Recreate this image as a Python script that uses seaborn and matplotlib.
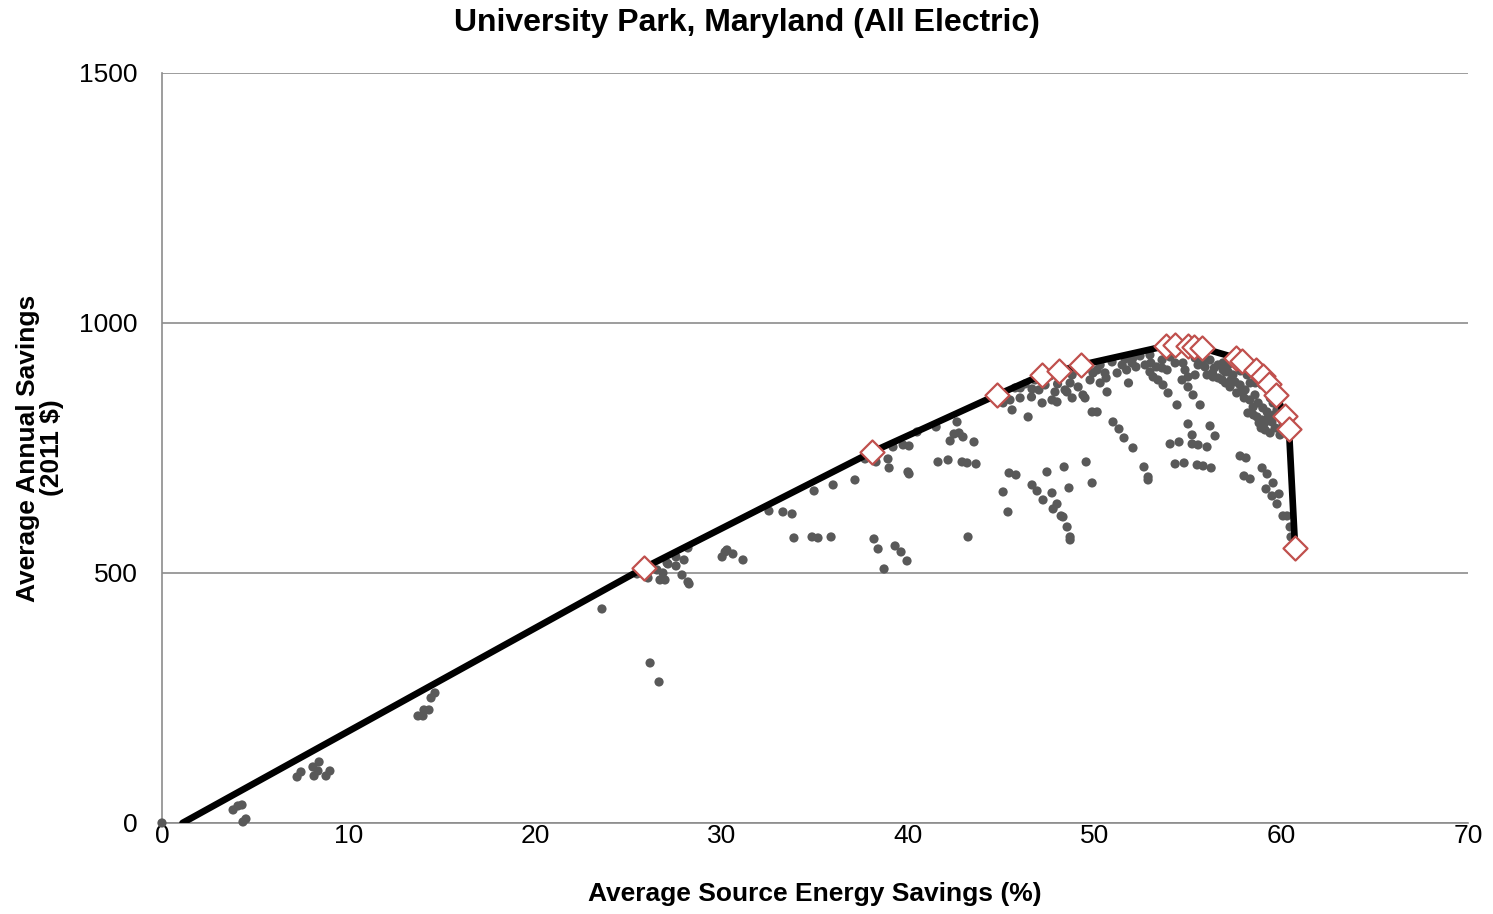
import numpy as np
import pandas as pd
import matplotlib
matplotlib.use("Agg")
import matplotlib.pyplot as plt
import seaborn as sns

# all simulated packages (energy savings %, annual savings $)
pkg_x = [0.0, 3.81, 4.07, 4.29, 4.34, 4.50, 7.24, 7.45, 8.09, 8.42, 8.15, 8.36, 8.79, 9.00,
         13.72, 13.99, 14.04, 14.31, 14.42, 14.63,
         23.58, 26.16, 26.64, 25.46, 26.05, 26.69, 26.96, 26.53, 26.85, 27.12, 27.55, 27.55,
         27.98, 27.87, 28.19, 28.25, 28.19, 27.07, 30.02, 30.28, 30.18, 30.60, 31.14,
         32.53, 33.28, 33.77, 33.87, 34.84, 35.16, 35.86, 34.95, 35.97, 37.14,
         38.16, 38.38, 38.70, 39.29, 39.61, 39.93, 37.68, 38.27, 38.22, 38.91, 38.97,
         39.18, 39.72, 40.04, 39.98, 40.04, 40.47, 41.49, 41.59, 42.13, 42.24, 42.45,
         42.61, 42.72, 42.93, 42.88, 43.15, 43.63, 43.52, 43.20,
         45.40, 45.77, 45.08, 45.34, 46.63, 46.90, 47.22, 47.70, 47.43, 48.35, 47.97,
         47.76, 48.19, 48.29, 48.51, 48.67, 48.67, 48.61, 49.53, 49.85, 50.97, 51.29,
         51.56, 52.04, 52.63, 52.85, 52.85, 54.03, 54.51, 54.30, 54.78, 54.99, 55.21,
         55.21, 55.53, 56.01, 56.17, 56.44, 55.48, 55.80, 56.23, 57.78, 58.10, 57.99,
         58.32, 58.96, 59.23, 59.55, 59.17, 59.49, 59.87, 59.76, 60.08, 60.30, 60.46, 60.51,
         45.08, 45.45, 45.56, 45.99, 46.42, 46.63, 47.17, 47.33, 47.70, 47.97, 47.86,
         48.40, 48.67, 48.78, 48.78, 49.36, 49.47, 49.74, 49.85, 50.12, 50.28, 50.65,
         50.54, 51.19, 51.46, 51.99, 52.04, 50.12, 49.10,
         45.72, 46.26, 46.79, 47.60, 48.24, 48.94, 49.63, 50.28, 50.92, 51.62, 52.42, 52.95,
         52.69, 53.60, 53.12, 53.38, 53.65, 53.92, 54.40, 54.30, 54.72, 54.83, 54.67,
         54.99, 55.37, 54.99, 55.26, 55.64, 55.90, 56.01, 56.33, 56.82, 56.60, 56.87,
         55.53, 53.87, 55.37, 52.95, 54.03, 56.17, 57.14,
         56.87, 56.98, 57.40, 57.51, 57.78, 58.05, 58.16, 58.32, 58.48, 58.58, 58.75,
         58.69, 58.96, 59.23, 59.12, 59.49, 59.66, 59.92, 59.39, 57.24, 58.96, 59.28,
         59.55, 57.88, 58.42, 58.85, 59.76, 60.03, 58.91, 60.08, 53.60, 57.14,
         56.30, 56.60, 57.00, 57.30, 57.60, 58.00, 58.30, 58.20, 58.50, 58.80, 59.00,
         59.30, 59.60, 59.10, 57.80, 58.60, 59.40, 55.80, 56.40, 53.30, 53.00, 52.20,
         51.70, 46.00, 46.60, 47.00, 48.00, 48.50, 49.90, 50.60, 51.80]
pkg_y = [0, 26, 34, 36, 2, 8, 92, 102, 112, 122, 94, 104, 94, 104,
         214, 214, 226, 226, 250, 260,
         428, 320, 282, 498, 490, 486, 486, 506, 500, 518, 514, 532,
         526, 496, 482, 478, 550, 520, 532, 546, 542, 538, 526,
         624, 622, 618, 570, 572, 570, 572, 664, 676, 686,
         568, 548, 508, 554, 542, 524, 728, 722, 732, 728, 710,
         752, 756, 754, 702, 698, 782, 792, 722, 726, 764, 778,
         802, 780, 772, 722, 720, 718, 762, 572,
         700, 696, 662, 622, 676, 664, 646, 660, 702, 712, 638,
         628, 614, 612, 592, 572, 566, 670, 722, 680, 802, 788,
         770, 750, 712, 692, 686, 758, 762, 718, 720, 798, 776,
         758, 756, 752, 794, 774, 716, 714, 710, 734, 730, 694,
         688, 710, 698, 680, 668, 654, 658, 638, 614, 614, 592, 572,
         840, 846, 826, 850, 812, 868, 840, 876, 846, 842, 862,
         866, 880, 850, 896, 856, 850, 886, 822, 822, 880, 862,
         900, 900, 916, 920, 930, 906, 872,
         870, 878, 886, 894, 898, 906, 910, 916, 922, 928, 934, 936,
         916, 926, 892, 886, 876, 860, 836, 920, 920, 906, 886,
         892, 896, 872, 856, 836, 912, 896, 892, 886, 916, 906,
         916, 906, 930, 902, 932, 926, 916,
         920, 902, 896, 882, 876, 866, 896, 880, 832, 856, 840,
         812, 806, 822, 786, 802, 790, 776, 780, 872, 876, 866,
         840, 862, 902, 890, 826, 806, 790, 796, 910, 902,
         900, 890, 880, 886, 860, 850, 846, 820, 816, 800, 830,
         812, 816, 800, 904, 880, 850, 926, 910, 912, 920, 912,
         906, 870, 852, 866, 878, 862, 900, 890, 880]

# least-cost frontier
front_x = [1.1, 25.83, 38.06, 44.75, 47.17, 48.08, 49.26, 53.81, 54.30, 55.00, 55.30,
           55.74, 57.56, 57.90, 58.64, 59.00, 59.33, 59.70, 60.19, 60.40, 60.73]
front_y = [0, 510, 742, 856, 896, 904, 916, 954, 956, 954, 952,
           950, 930, 924, 906, 894, 878, 856, 814, 788, 550]

sns.set_style("white")
plt.rcParams['font.family'] = ['Liberation Sans', 'DejaVu Sans']
plt.rcParams['text.color'] = 'black'
plt.rcParams['axes.labelcolor'] = 'black'
plt.rcParams['xtick.color'] = 'black'
plt.rcParams['ytick.color'] = 'black'

pkgs = pd.DataFrame({'x': pkg_x, 'y': pkg_y})
front = pd.DataFrame({'x': front_x, 'y': front_y})

fig = plt.figure(figsize=(14.93, 9.14), dpi=100)
ax = fig.add_axes([0.1085, 0.0996, 0.8748, 0.8206])

sns.scatterplot(data=pkgs, x='x', y='y', ax=ax, color='#595959', s=44,
                edgecolor='none', zorder=3, clip_on=False)
sns.lineplot(data=front, x='x', y='y', ax=ax, sort=False, color='black',
             linewidth=4.8, zorder=4)
sns.scatterplot(data=front.iloc[1:], x='x', y='y', ax=ax, marker='D', s=150,
                facecolor='white', edgecolor='#C0504D', linewidth=1.6, zorder=5,
                clip_on=False)

ax.set_xlim(0, 70)
ax.set_ylim(0, 1500)
ax.set_xticks(range(0, 71, 10))
ax.set_yticks([0, 500, 1000, 1500])
ax.yaxis.grid(True, color='#8c8c8c', linewidth=1.2)
ax.set_axisbelow(True)
for s in ['top', 'right']:
    ax.spines[s].set_visible(False)
for s in ['left', 'bottom']:
    ax.spines[s].set_color('#8c8c8c')
    ax.spines[s].set_linewidth(1.2)
ax.tick_params(axis='x', direction='in', length=6, color='#8c8c8c', width=1.2,
               labelsize=19, labelcolor='black', pad=1)
ax.tick_params(axis='y', length=0, labelsize=19, labelcolor='black', pad=17.5)

ax.set_xlabel('Average Source Energy Savings (%)', fontsize=19, fontweight='bold',
              labelpad=24)
ax.set_ylabel('Average Annual Savings\n(2011 $)', fontsize=19, fontweight='bold',
              labelpad=11, linespacing=1.0)
fig.suptitle('University Park, Maryland (All Electric)', fontsize=23,
             fontweight='bold', x=0.5, y=0.975, va='center')

plt.savefig('out.png', dpi=100)
